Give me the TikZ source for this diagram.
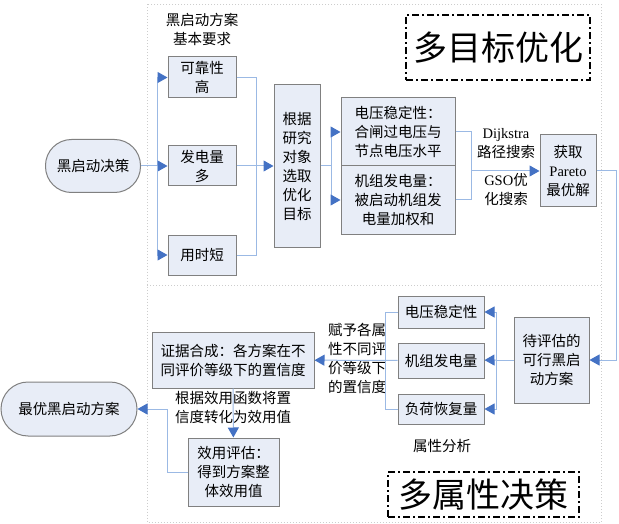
\documentclass[tikz,border=0pt]{standalone}
\usepackage{fontspec}
\setmainfont{Noto Sans CJK SC}
\newfontfamily\latin{Liberation Serif}
\usetikzlibrary{arrows.meta, positioning, calc}
\definecolor{boxfill}{RGB}{232, 237, 247}
\definecolor{boxdraw}{RGB}{128, 128, 128}
\definecolor{linkblue}{RGB}{155, 185, 228}
\definecolor{tipblue}{RGB}{68, 114, 196}
\definecolor{framegray}{RGB}{205, 205, 205}

\begin{document}
\begin{tikzpicture}[x=1pt, y=-1pt,
    box/.style={rectangle, draw=boxdraw, fill=boxfill, line width=1pt, inner sep=1pt,
                align=center, font=\fontsize{14.5}{19}\selectfont},
    pill/.style={box, rounded corners=26pt},
    tag/.style={align=center, inner sep=1pt, font=\fontsize{14.5}{19}\selectfont},
    title/.style={draw=black, line width=1.2pt, dash pattern=on 7pt off 3pt on 2pt off 3pt,
                  inner sep=0pt, font=\fontsize{34}{36}\selectfont},
    link/.style={draw=linkblue, line width=1pt},
    arrow/.style={link, -{Triangle[length=10pt, width=11pt, color=tipblue]}},
]
    \useasboundingbox (0,0) rectangle (619,524);

    % 外框与分隔线
    \draw[framegray, dotted, line width=1pt] (147,4.5) rectangle (601,522);
    \draw[framegray, dotted, line width=1pt] (147,285) -- (601,285);

    % 上半部分：多目标优化
    \node[pill, minimum width=95pt, minimum height=53pt] (start) at (93,166) {黑启动决策};
    \node[tag] (reqtag) at (202,29) {黑启动方案\\基本要求};
    \node[box, minimum width=68pt, minimum height=41pt] (reliable) at (202,77.5) {可靠性\\高};
    \node[box, minimum width=68pt, minimum height=40pt, below=47pt of reliable] (power) {发电量\\多};
    \node[box, minimum width=68pt, minimum height=40pt, below=48pt of power] (time) {用时短};
    \node[box, minimum width=46pt, minimum height=162pt] (choose) at (297,166) {根据\\研究\\对象\\选取\\优化\\目标};
    \node[box, minimum width=114pt, minimum height=68pt] (volt) at (398,132) {电压稳定性：\\合闸过电压与\\节点电压水平};
    \node[box, minimum width=114pt, minimum height=68pt, below=-1pt of volt] (gen) {机组发电量：\\被启动机组发\\电量加权和};
    \node[tag] (dij) at (506,143.5) {{\latin Dijkstra}\\路径搜索};
    \node[tag] (gso) at (506,189.5) {{\latin GSO}优\\化搜索};
    \node[box, minimum width=56pt, minimum height=72pt] (pareto) at (568,171) {获取\\{\latin Pareto}\\最优解};
    \node[title, minimum width=184pt, minimum height=65pt] (moo) at (498,47.5) {多目标优化};

    % 下半部分：多属性决策
    \node[box, minimum width=75pt, minimum height=86pt] (cand) at (551.5,360) {待评估的\\可行黑启\\动方案};
    \node[box, minimum width=86pt, minimum height=32pt] (attvolt) at (441,312) {电压稳定性};
    \node[box, minimum width=86pt, minimum height=35pt, below=14pt of attvolt] (attgen) {机组发电量};
    \node[box, minimum width=86pt, minimum height=30pt, below=15pt of attgen] (attload) {负荷恢复量};
    \node[tag] (atttag) at (442,446) {属性分析};
    \node[tag, align=left] (conf) at (357,358) {赋予各属\\性不同评\\价等级下\\的置信度};
    \node[box, minimum width=162pt, minimum height=56pt] (evid) at (233,360) {证据合成：各方案在不\\同评价等级下的置信度};
    \node[box, minimum width=91pt, minimum height=68pt] (util) at (233.5,472) {效用评估：\\得到方案整\\体效用值};
    \node[tag] (utiltag) at (233,408) {根据效用函数将置\\信度转化为效用值};
    \node[pill, minimum width=136pt, minimum height=54pt, rounded corners=27pt] (best) at (69,409) {最优黑启动方案};
    \node[title, minimum width=191pt, minimum height=45pt] (mad) at (483.5,494.5) {多属性决策};

    % 连线
    \coordinate (fork1) at (157,166);
    \coordinate (join1) at (256,166);
    \coordinate (fork2) at (331,166);
    \coordinate (join2) at (471,171);
    \coordinate (turn) at (616,171);
    \coordinate (fork3) at (496,360);
    \coordinate (join3) at (385,360);
    \coordinate (turn2) at (167,409);

    \draw[link] (start) -- (fork1);
    \draw[arrow] (fork1) |- (reliable);
    \draw[arrow] (fork1) -- (power);
    \draw[arrow] (fork1) |- (time);

    \draw[link] (reliable) -| (join1);
    \draw[link] (time) -| (join1);
    \draw[arrow] (power) -- (choose);

    \draw[link] (choose) -- (fork2);
    \draw[arrow] (fork2) |- (volt);
    \draw[arrow] (fork2) |- (gen);

    \draw[link] (volt) -| (join2);
    \draw[link] (gen) -| (join2);
    \draw[arrow] (join2) -- (pareto);

    \draw[arrow] (pareto) -- (turn) |- (cand);

    \draw[link] (cand) -- (fork3);
    \draw[arrow] (fork3) |- (attvolt);
    \draw[arrow] (fork3) -- (attgen);
    \draw[arrow] (fork3) |- (attload);

    \draw[link] (attvolt) -| (join3);
    \draw[link] (attload) -| (join3);
    \draw[arrow] (attgen) -- (evid);

    \draw[arrow] (evid) -- (util);
    \draw[arrow] (util) -| (turn2) -- (best);
\end{tikzpicture}
\end{document}
